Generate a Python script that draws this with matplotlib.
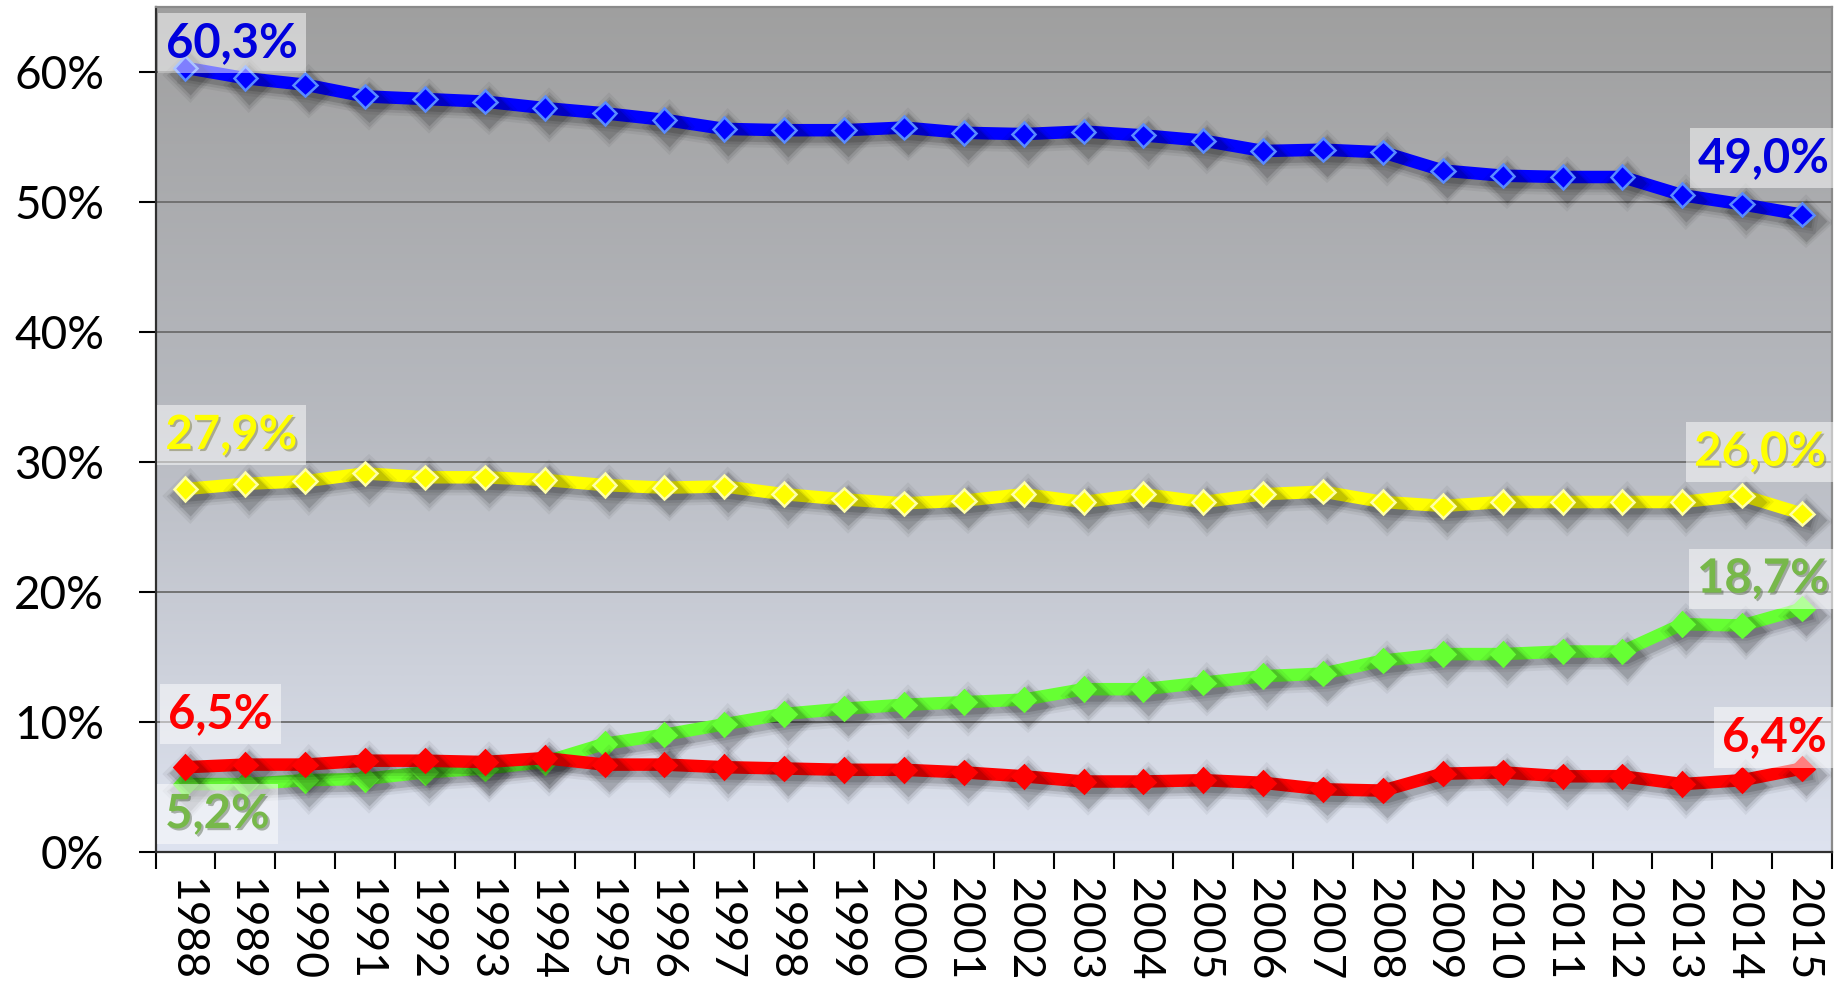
import numpy as np
import matplotlib
matplotlib.use("Agg")
import matplotlib.pyplot as plt
import matplotlib.patheffects as pe

plt.rcParams['font.family'] = ['Lato', 'DejaVu Sans']

years = [str(y) for y in range(1988, 2016)]
blue_vals = [60.3, 59.5, 59.0, 58.1, 57.9, 57.7, 57.2, 56.8, 56.3, 55.6, 55.5, 55.5, 55.7, 55.3,
             55.2, 55.4, 55.1, 54.7, 53.9, 54.0, 53.8, 52.4, 52.0, 51.9, 51.9, 50.5, 49.8, 49.0]
yellow_vals = [27.9, 28.3, 28.5, 29.1, 28.8, 28.8, 28.6, 28.2, 28.0, 28.1, 27.5, 27.1, 26.8, 27.0,
               27.5, 26.9, 27.5, 26.9, 27.5, 27.7, 26.9, 26.6, 26.9, 26.9, 26.9, 26.9, 27.4, 26.0]
green_vals = [5.2, 5.2, 5.5, 5.6, 6.1, 6.4, 6.9, 8.3, 9.0, 9.8, 10.6, 11.0, 11.3, 11.5,
              11.7, 12.5, 12.5, 13.0, 13.5, 13.7, 14.7, 15.2, 15.2, 15.4, 15.4, 17.5, 17.4, 18.7]
red_vals = [6.5, 6.7, 6.7, 7.0, 7.0, 6.9, 7.2, 6.7, 6.7, 6.5, 6.4, 6.3, 6.3, 6.1,
            5.8, 5.4, 5.4, 5.5, 5.3, 4.8, 4.7, 6.0, 6.1, 5.8, 5.8, 5.2, 5.5, 6.4]
ytick_vals = [0, 10, 20, 30, 40, 50, 60]
ytick_labels = [f"{v}%" for v in ytick_vals]

W, H = 1847, 992
fig = plt.figure(figsize=(W / 100, H / 100), dpi=100)
fig.patch.set_facecolor('white')
ax = fig.add_axes([155.5 / W, (H - 851.7) / H, (1832 - 155.5) / W, (851.7 - 6.7) / H])

# background gradient
n = 256
t = np.linspace(0, 1, n)
top = np.array([0.625, 0.625, 0.625])
mid = np.array([0.72, 0.73, 0.755])
bot = np.array([0.87, 0.89, 0.94])
cols = np.where(t[:, None] < 0.5,
                top + (mid - top) * (t[:, None] / 0.5),
                mid + (bot - mid) * ((t[:, None] - 0.5) / 0.5))
grad = np.repeat(cols[:, None, :], 2, axis=1)
ax.imshow(grad, extent=[0, 1, 0, 1], transform=ax.transAxes, aspect='auto', zorder=-1,
          interpolation='bilinear')

x = np.arange(len(years))
ax.set_xlim(-0.5, len(years) - 0.5)
ax.set_ylim(0, 65)

ax.set_yticks(ytick_vals)
ax.set_yticklabels(ytick_labels)
ax.yaxis.grid(True, color='#6c6c6c', lw=1.3)
ax.set_axisbelow(True)
ax.tick_params(axis='y', length=12, width=1.5, direction='out', pad=25, labelsize=33, colors='black')

ax.set_xticks(x)
ax.set_xticklabels(years, rotation=-90)
ax.set_xticks(np.arange(len(years) + 1) - 0.5, minor=True)
ax.tick_params(axis='x', which='major', length=0, pad=19, labelsize=32)
ax.tick_params(axis='x', which='minor', length=12, width=1.5, direction='out')

for side in ['left', 'bottom']:
    ax.spines[side].set_color('#303030')
    ax.spines[side].set_linewidth(1.6)
for side in ['top', 'right']:
    ax.spines[side].set_color('#8a8a8a')
    ax.spines[side].set_linewidth(1.6)

shadow = [
    pe.SimpleLineShadow(offset=(3, -5), shadow_color='black', alpha=0.05, linewidth=16),
    pe.SimpleLineShadow(offset=(3, -5), shadow_color='black', alpha=0.08, linewidth=12),
    pe.SimpleLineShadow(offset=(3, -4.5), shadow_color='black', alpha=0.13, linewidth=9),
    pe.Normal(),
]

series = [
    (blue_vals, '#0000ff', '#5a8cff'),
    (yellow_vals, '#ffff00', '#ffffa8'),
    (green_vals, '#66ff33', '#66ff33'),
    (red_vals, '#ff0000', '#ff0000'),
]
for vals, c, ec in series:
    ax.plot(x, vals, color=c, lw=9, marker='D', ms=12, mfc=c, mec=ec, mew=1.8,
            zorder=3, path_effects=shadow, solid_joinstyle='miter')

label_colors = ['#0000dd', '#ffff00', '#77b84a', '#ff0000']
# (dx, dy) in pixels for first and last label of each series
first_off = [(47, 25), (46, 54), (32, -30), (35, 53)]
last_off = [(-38, 57), (-42, 62), (-39, 30), (-28, 31)]

def fmt(v):
    return f"{v:.1f}%".replace('.', ',')

for (vals, c, ec), lc, fo, lo in zip(series, label_colors, first_off, last_off):
    for idx, off in ((0, fo), (len(vals) - 1, lo)):
        effects = []
        if lc in ('#ffff00', '#77b84a'):
            effects = [pe.withSimplePatchShadow(offset=(1.5, -1.5), alpha=0.35)]
        ax.annotate(fmt(vals[idx]), xy=(x[idx], vals[idx]), xytext=off, textcoords='offset pixels',
                    ha='center', va='center', fontsize=34, fontweight='bold', color=lc,
                    bbox=dict(boxstyle='square,pad=0.17', fc='white', alpha=0.5, ec='none'),
                    zorder=6, annotation_clip=False, path_effects=effects)

fig.savefig('out.png', dpi=100)
